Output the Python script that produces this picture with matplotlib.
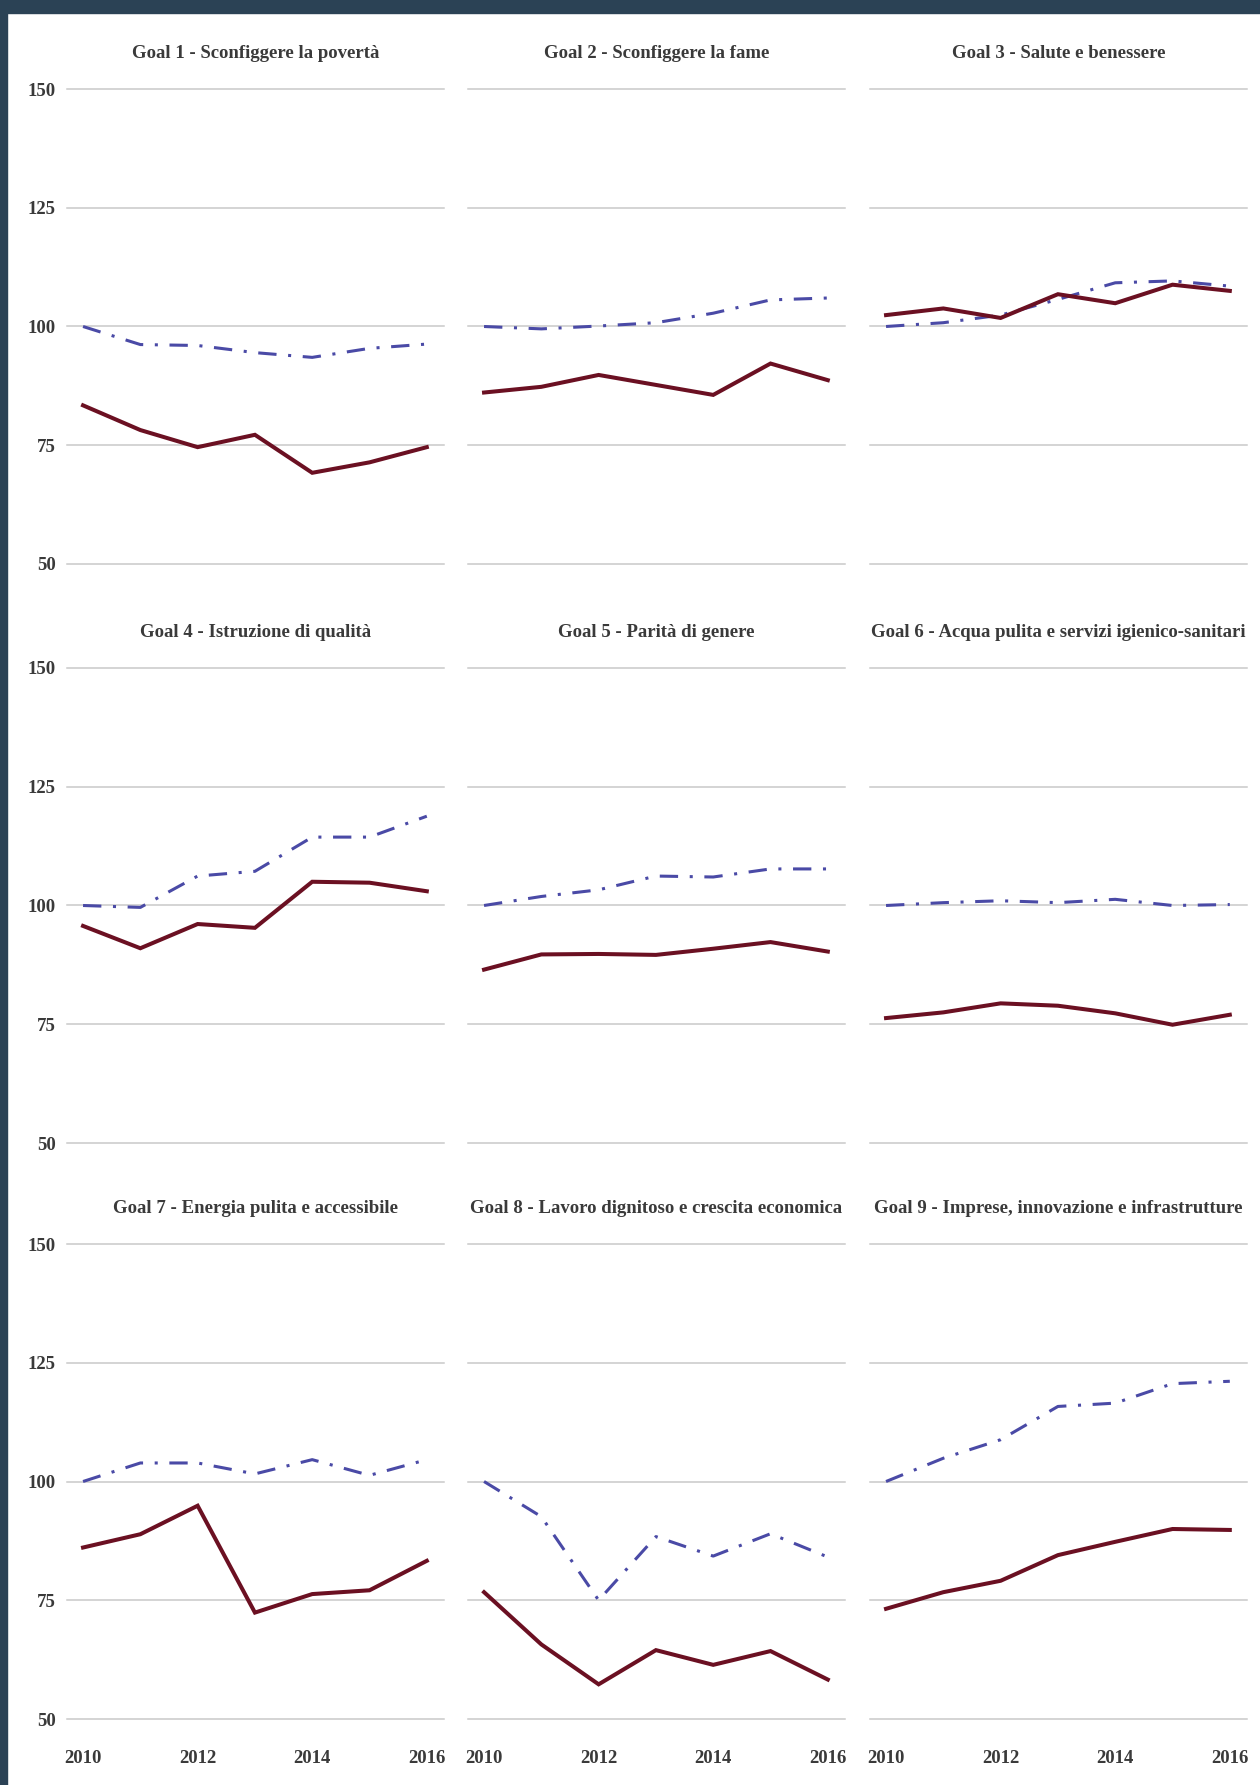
import matplotlib
matplotlib.use("Agg")
import matplotlib.pyplot as plt
from matplotlib.patches import Rectangle

years = [2010, 2011, 2012, 2013, 2014, 2015, 2016]

titles = [
    "Goal 1 - Sconfiggere la povertà",
    "Goal 2 - Sconfiggere la fame",
    "Goal 3 - Salute e benessere",
    "Goal 4 - Istruzione di qualità",
    "Goal 5 - Parità di genere",
    "Goal 6 - Acqua pulita e servizi igienico-sanitari",
    "Goal 7 - Energia pulita e accessibile",
    "Goal 8 - Lavoro dignitoso e crescita economica",
    "Goal 9 - Imprese, innovazione e infrastrutture",
]

# solid dark-red series
red_g1 = [83.4, 78.2, 74.6, 77.2, 69.2, 71.4, 74.6]
red_g2 = [86.1, 87.3, 89.8, 87.7, 85.6, 92.2, 88.7]
red_g3 = [102.4, 103.8, 101.8, 106.8, 104.9, 108.8, 107.5]
red_g4 = [95.7, 91.0, 96.1, 95.3, 105.0, 104.8, 103.0]
red_g5 = [86.5, 89.7, 89.8, 89.6, 90.9, 92.3, 90.3]
red_g6 = [76.3, 77.5, 79.4, 78.9, 77.3, 74.9, 77.0]
red_g7 = [86.1, 88.9, 94.9, 72.4, 76.3, 77.1, 83.3]
red_g8 = [76.7, 65.7, 57.3, 64.5, 61.4, 64.3, 58.3]
red_g9 = [73.2, 76.7, 79.1, 84.5, 87.3, 90.0, 89.8]

# dash-dot blue series
blue_g1 = [100.0, 96.2, 96.0, 94.5, 93.5, 95.4, 96.3]
blue_g2 = [100.0, 99.5, 100.1, 100.8, 102.8, 105.6, 106.0]
blue_g3 = [100.0, 100.8, 102.4, 105.7, 109.2, 109.6, 108.5]
blue_g4 = [100.0, 99.6, 106.2, 107.2, 114.4, 114.4, 118.8]
blue_g5 = [100.0, 101.9, 103.3, 106.2, 106.0, 107.7, 107.7]
blue_g6 = [100.0, 100.6, 101.0, 100.6, 101.3, 100.0, 100.2]
blue_g7 = [100.0, 103.9, 103.9, 101.6, 104.6, 101.3, 104.6]
blue_g8 = [100.0, 92.6, 75.0, 88.4, 84.3, 89.0, 84.1]
blue_g9 = [100.0, 104.9, 108.8, 115.8, 116.5, 120.6, 121.1]

red_series = [red_g1, red_g2, red_g3, red_g4, red_g5, red_g6, red_g7, red_g8, red_g9]
blue_series = [blue_g1, blue_g2, blue_g3, blue_g4, blue_g5, blue_g6, blue_g7, blue_g8, blue_g9]

y_ticks = [50, 75, 100, 125, 150]
x_ticks = [2010, 2012, 2014, 2016]

RED = "#6b1022"
BLUE = "#4a4aa6"
GRID = "#c9c9c9"
TEXT = "#3a3a3a"
FRAME = "#2b4255"
FONT = ["Liberation Serif", "DejaVu Serif"]
FS = 13.5

W, H = 1260, 1785
fig = plt.figure(figsize=(W / 100, H / 100), dpi=100)
fig.patch.set_facecolor("white")

col_left = [67, 468, 870]
ax_w = 377
row_top = [89, 668, 1244]
ax_h = 475

for i in range(9):
    r, c = divmod(i, 3)
    left = col_left[c] / W
    bottom = 1 - (row_top[r] + ax_h) / H
    ax = fig.add_axes([left, bottom, ax_w / W, ax_h / H])
    ax.set_xlim(2009.72, 2016.3)
    ax.set_ylim(50, 150)
    for s in ax.spines.values():
        s.set_visible(False)
    ax.set_yticks(y_ticks)
    ax.set_xticks(x_ticks)
    ax.grid(axis="y", color=GRID, lw=1.1, zorder=0)
    ax.grid(axis="x", visible=False)
    for gl in ax.get_ygridlines():
        gl.set_clip_on(False)
    ax.tick_params(length=0)
    if c == 0:
        ax.tick_params(axis="y", pad=8)
        for lab in ax.get_yticklabels():
            lab.set_fontfamily(FONT)
            lab.set_fontweight("bold")
            lab.set_fontsize(FS)
            lab.set_color(TEXT)
    else:
        ax.set_yticklabels([])
    if r == 2:
        ax.tick_params(axis="x", pad=22)
        for lab in ax.get_xticklabels():
            lab.set_fontfamily(FONT)
            lab.set_fontweight("bold")
            lab.set_fontsize(FS)
            lab.set_color(TEXT)
    else:
        ax.set_xticklabels([])
    ax.plot(years, blue_series[i], color=BLUE, lw=2.2,
            linestyle=(0, (6, 3.8, 1.0, 3.8)), zorder=3)
    ax.plot(years, red_series[i], color=RED, lw=2.9,
            solid_joinstyle="miter", zorder=4)
    ax.set_title(titles[i], fontfamily=FONT, fontweight="bold",
                 fontsize=FS, color=TEXT, pad=22)

# frame: top bar and left border
fig.patches.append(Rectangle((0, 1 - 13 / H), 1, 13 / H, transform=fig.transFigure,
                             color=FRAME, zorder=10))
fig.patches.append(Rectangle((0, 0), 7 / W, 1, transform=fig.transFigure,
                             color=FRAME, zorder=10))

fig.savefig("out.png", dpi=100)
